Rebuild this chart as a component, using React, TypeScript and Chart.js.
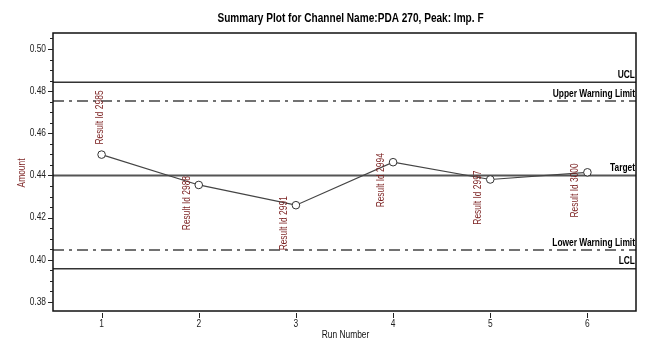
import React, { useEffect, useRef } from 'react';
import { Chart, registerables } from 'chart.js';

Chart.register(...registerables);

const chartTitle = 'Summary Plot for Channel Name:PDA 270, Peak: Imp. F';
const xAxisTitle = 'Run Number';
const yAxisTitle = 'Amount';

const runNumbers = ['1', '2', '3', '4', '5', '6'];
const amounts = [0.4499, 0.4355, 0.4259, 0.4463, 0.4381, 0.4415];
const resultIds = ['Result Id 2985', 'Result Id 2988', 'Result Id 2991', 'Result Id 2994', 'Result Id 2997', 'Result Id 3000'];
const resultLabelSides = ['above', 'below', 'below', 'below', 'below', 'below'];

const limitNames = ['UCL', 'Upper Warning Limit', 'Target', 'Lower Warning Limit', 'LCL'];
const limitValues = [0.4842, 0.4753, 0.44, 0.4047, 0.3958];
const limitKinds = ['solid', 'dashdot', 'target', 'dashdot', 'solid'];

const yMajorTicks = [0.38, 0.4, 0.42, 0.44, 0.46, 0.48, 0.5];
const yMin = 0.3757;
const yMax = 0.5076;
const yMinorStep = 0.005;

const FONT = '"Liberation Sans", Arial, sans-serif';
const NARROW = 0.84;
const MAROON = '#7a1f1f';

function drawText(
  ctx: CanvasRenderingContext2D,
  text: string,
  x: number,
  y: number,
  o: { font: string; color: string; align: CanvasTextAlign; baseline: CanvasTextBaseline; rotate?: number }
) {
  ctx.save();
  ctx.translate(x, y);
  if (o.rotate) ctx.rotate(o.rotate);
  ctx.scale(NARROW, 1);
  ctx.font = o.font;
  ctx.fillStyle = o.color;
  ctx.textAlign = o.align;
  ctx.textBaseline = o.baseline;
  ctx.fillText(text, 0, 0);
  ctx.restore();
}

const decorPlugin = {
  id: 'decor',
  beforeDatasetsDraw(chart: any) {
    const { ctx, chartArea } = chart;
    const y = chart.scales.y;
    const { left, right, top, bottom } = chartArea;
    ctx.save();
    limitValues.forEach((v, i) => {
      const py = y.getPixelForValue(v);
      const kind = limitKinds[i];
      ctx.beginPath();
      if (kind === 'dashdot') {
        ctx.setLineDash([11, 5, 3, 5]);
        ctx.strokeStyle = '#444';
        ctx.lineWidth = 1.5;
      } else if (kind === 'target') {
        ctx.setLineDash([]);
        ctx.strokeStyle = '#555';
        ctx.lineWidth = 2;
      } else {
        ctx.setLineDash([]);
        ctx.strokeStyle = '#333';
        ctx.lineWidth = 1.5;
      }
      ctx.moveTo(left, py);
      ctx.lineTo(right, py);
      ctx.stroke();
    });
    ctx.setLineDash([]);
    ctx.save();
    ctx.beginPath();
    ctx.rect(left, top, right - left, bottom - top);
    ctx.clip();
    limitValues.forEach((v, i) => {
      const py = y.getPixelForValue(v);
      drawText(ctx, limitNames[i], right - 1, py - 2, {
        font: `bold 10px ${FONT}`,
        color: '#000',
        align: 'right',
        baseline: 'bottom',
      });
    });
    ctx.restore();
    ctx.restore();
  },
  afterDraw(chart: any) {
    const { ctx, chartArea } = chart;
    const x = chart.scales.x;
    const y = chart.scales.y;
    const { left, right, top, bottom } = chartArea;
    ctx.save();
    amounts.forEach((v, i) => {
      const px = x.getPixelForValue(i);
      const py = y.getPixelForValue(v);
      const above = resultLabelSides[i] === 'above';
      drawText(ctx, resultIds[i], above ? px - 1.5 : px - 12, above ? py - 10 : py - 9, {
        font: `10px ${FONT}`,
        color: MAROON,
        align: above ? 'left' : 'right',
        baseline: 'middle',
        rotate: -Math.PI / 2,
      });
    });
    ctx.strokeStyle = '#111';
    ctx.lineWidth = 1.5;
    ctx.strokeRect(left, top, right - left, bottom - top);
    ctx.lineWidth = 1;
    ctx.strokeStyle = '#222';
    ctx.beginPath();
    const start = Math.ceil(yMin / yMinorStep) * yMinorStep;
    for (let k = 0; k < 100; k++) {
      const v = start + k * yMinorStep;
      if (v > yMax) break;
      const py = Math.round(y.getPixelForValue(v)) + 0.5;
      const isMajor = yMajorTicks.some((m) => Math.abs(m - v) < 1e-6);
      ctx.moveTo(left - (isMajor ? 5 : 3), py);
      ctx.lineTo(left, py);
    }
    runNumbers.forEach((_, i) => {
      const px = Math.round(x.getPixelForValue(i)) + 0.5;
      ctx.moveTo(px, bottom + 2);
      ctx.lineTo(px, bottom + 7);
    });
    ctx.stroke();
    yMajorTicks.forEach((v) => {
      drawText(ctx, v.toFixed(2), left - 7, y.getPixelForValue(v), {
        font: `10px ${FONT}`,
        color: '#222',
        align: 'right',
        baseline: 'middle',
      });
    });
    runNumbers.forEach((lab, i) => {
      drawText(ctx, lab, x.getPixelForValue(i), bottom + 13, {
        font: `10px ${FONT}`,
        color: '#222',
        align: 'center',
        baseline: 'middle',
      });
    });
    drawText(ctx, chartTitle, (left + right) / 2 + 6, 19, {
      font: `bold 12px ${FONT}`,
      color: '#000',
      align: 'center',
      baseline: 'middle',
    });
    drawText(ctx, xAxisTitle, (left + right) / 2 + 1, 335, {
      font: `10px ${FONT}`,
      color: '#111',
      align: 'center',
      baseline: 'middle',
    });
    drawText(ctx, yAxisTitle, 22, (top + bottom) / 2 + 1, {
      font: `10px ${FONT}`,
      color: MAROON,
      align: 'center',
      baseline: 'middle',
      rotate: -Math.PI / 2,
    });
    ctx.restore();
  },
};

export default function App() {
  const ref = useRef<HTMLCanvasElement | null>(null);
  useEffect(() => {
    document.body.style.margin = '0';
    const chart = new Chart(ref.current as HTMLCanvasElement, {
      type: 'line',
      data: {
        labels: runNumbers,
        datasets: [
          {
            data: amounts,
            borderColor: '#444',
            borderWidth: 1.2,
            pointRadius: 3.8,
            pointBorderWidth: 1,
            pointBorderColor: '#333',
            pointBackgroundColor: '#fff',
            tension: 0,
          },
        ],
      },
      options: {
        responsive: false,
        animation: false,
        events: [],
        layout: { padding: { top: 33, right: 30, left: 0, bottom: 0 } },
        plugins: { legend: { display: false }, tooltip: { enabled: false }, title: { display: false } },
        scales: {
          x: {
            type: 'category',
            offset: true,
            grid: { display: false, drawTicks: false },
            border: { display: false },
            ticks: { display: false },
            afterFit: (s: any) => { s.height = 43; },
          },
          y: {
            type: 'linear',
            min: yMin,
            max: yMax,
            grid: { display: false, drawTicks: false },
            border: { display: false },
            ticks: { display: false },
            afterBuildTicks: (s: any) => { s.ticks = yMajorTicks.map((v) => ({ value: v })); },
            afterFit: (s: any) => { s.width = 53; },
          },
        },
      },
      plugins: [decorPlugin],
    } as any);
    return () => chart.destroy();
  }, []);
  return (
    <div style={{ position: 'fixed', left: 0, top: 0, width: 666, height: 354, background: '#fff' }}>
      <canvas ref={ref} width={666} height={354} style={{ width: 666, height: 354 }} />
    </div>
  );
}
